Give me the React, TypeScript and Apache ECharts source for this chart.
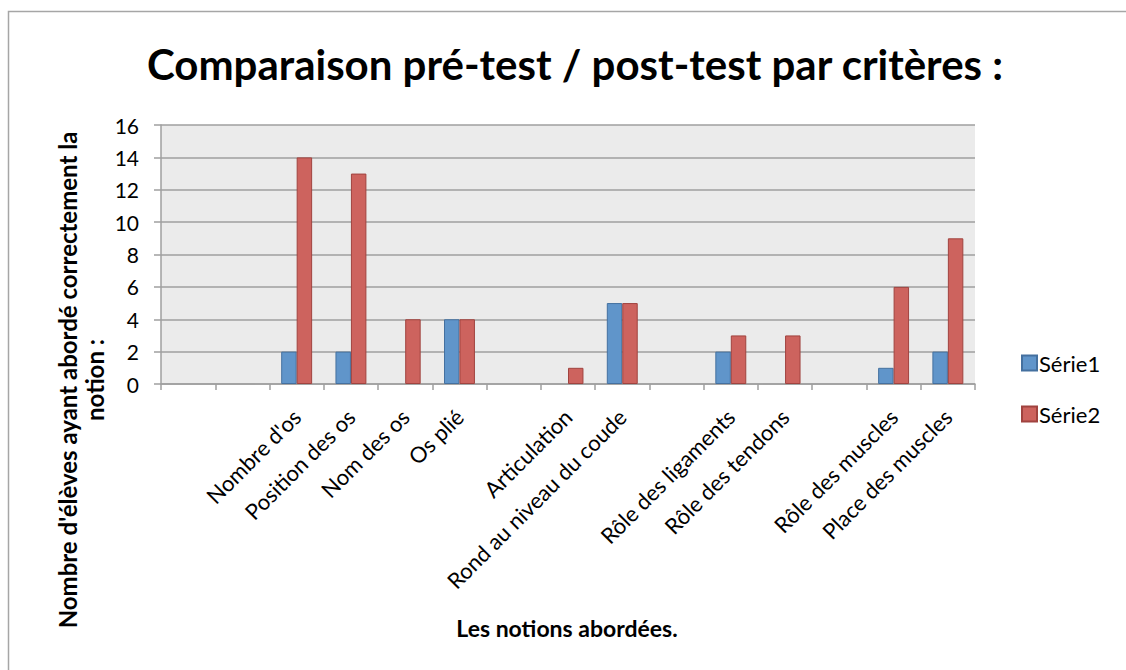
import React, { useEffect, useRef } from "react";
import * as echarts from "echarts";

const categories: string[] = [
  "", "", "Nombre d'os", "Position des os", "Nom des os", "Os plié", "",
  "Articulation", "Rond au niveau du coude", "", "Rôle des ligaments",
  "Rôle des tendons", "", "Rôle des muscles", "Place des muscles",
];
const serie1: number[] = [0, 0, 2, 2, 0, 4, 0, 0, 5, 0, 2, 0, 0, 1, 2];
const serie2: number[] = [0, 0, 14, 13, 4, 4, 0, 1, 5, 0, 3, 3, 0, 6, 9];
const seriesNames = ["Série1", "Série2"];
const titleText = "Comparaison pré-test / post-test par critères :";
const yName = "Nombre d'élèves ayant abordé correctement la\nnotion :";
const xName = "Les notions abordées.";

const FONT = "Lato, 'Open Sans', sans-serif";

export default function App() {
  const ref = useRef<HTMLDivElement>(null);
  useEffect(() => {
    document.body.style.margin = "0";
    if (!ref.current) return;
    const chart = echarts.init(ref.current, undefined, { renderer: "svg" });
    const mk = (arr: number[]) =>
      arr.map((v) => (v === 0 ? { value: 0, itemStyle: { borderWidth: 0 } } : v));
    chart.setOption({
      animation: false,
      backgroundColor: "#ffffff",
      textStyle: { fontFamily: FONT },
      grid: {
        left: 161,
        right: 151,
        top: 125,
        bottom: 286,
        show: true,
        backgroundColor: "#EBEBEB",
        borderWidth: 0,
      },
      legend: {
        orient: "vertical",
        left: 1021,
        top: 352,
        padding: 0,
        itemWidth: 15,
        itemHeight: 15,
        itemGap: 29,
        icon: "rect",
        textStyle: { fontSize: 22, color: "#000", fontFamily: FONT, padding: [0, 0, 0, -3] },
        data: seriesNames,
      },
      xAxis: {
        type: "category",
        data: categories,
        boundaryGap: true,
        axisLine: { lineStyle: { color: "#9F9F9F", width: 1.5 } },
        axisTick: { show: true, length: 6, lineStyle: { color: "#9F9F9F", width: 1.5 } },
        axisLabel: {
          interval: 0,
          rotate: 45,
          margin: 29,
          fontSize: 22,
          color: "#000",
          fontFamily: FONT,
        },
        splitLine: { show: false },
      },
      yAxis: {
        type: "value",
        min: 0,
        max: 16,
        interval: 2,
        axisLine: { show: true, lineStyle: { color: "#9F9F9F", width: 1.5 } },
        axisTick: { show: true, length: 7, lineStyle: { color: "#9F9F9F", width: 1.5 } },
        axisLabel: { fontSize: 21, color: "#000", margin: 22, fontFamily: FONT },
        splitLine: { show: true, lineStyle: { color: "#9F9F9F", width: 1.5 } },
      },
      series: [
        {
          name: seriesNames[0],
          type: "bar",
          data: mk(serie1),
          barGap: "0%",
          barCategoryGap: "43%",
          itemStyle: { color: "#6095CA", borderColor: "#44709F", borderWidth: 1 },
        },
        {
          name: seriesNames[1],
          type: "bar",
          data: mk(serie2),
          barGap: "0%",
          barCategoryGap: "43%",
          itemStyle: { color: "#CD635E", borderColor: "#A0433F", borderWidth: 1 },
        },
      ],
      graphic: [
        {
          type: "polyline",
          shape: { points: [[8.5, 670], [8.5, 11.5], [1126, 11.5]] },
          style: { stroke: "#A6A6A6", lineWidth: 1.5, fill: null },
          silent: true,
        },
        {
          type: "text",
          x: 575,
          y: 64,
          style: {
            text: titleText,
            font: `bold 42px ${FONT}`,
            fill: "#000",
            textAlign: "center",
            textVerticalAlign: "middle",
          },
        },
        {
          type: "text",
          x: 81,
          y: 380,
          rotation: Math.PI / 2,
          style: {
            text: yName,
            font: `bold 24px ${FONT}`,
            lineHeight: 27,
            fill: "#000",
            textAlign: "center",
            textVerticalAlign: "middle",
          },
        },
        {
          type: "text",
          x: 567,
          y: 628,
          style: {
            text: xName,
            font: `bold 23px ${FONT}`,
            fill: "#000",
            textAlign: "center",
            textVerticalAlign: "middle",
          },
        },
      ],
    });
    return () => chart.dispose();
  }, []);
  return <div ref={ref} style={{ width: 1126, height: 670 }} />;
}
